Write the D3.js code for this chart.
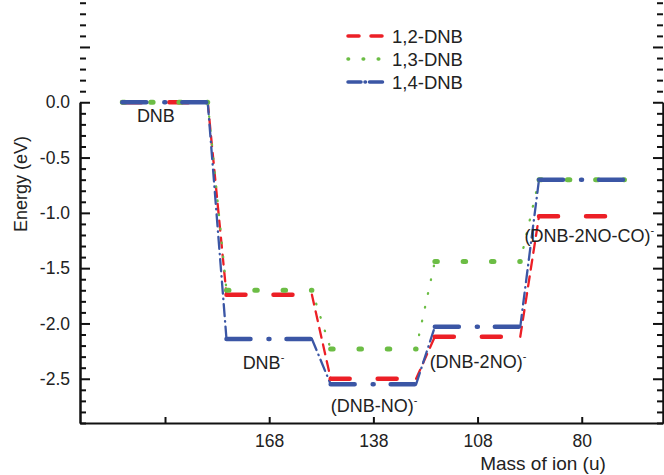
<html>
<head>
<script src="https://cdn.jsdelivr.net/npm/d3@7/dist/d3.min.js"></script>
<style>
    body { margin:0; background:white }
    svg { font-family: "Liberation Sans", Arial, sans-serif; display:block }
</style>
</head>
<body>
<svg id="chart"></svg>
<script>

// data
let massLabels = ["", "168", "138", "108", "80"]
let speciesNames = ["DNB", "DNB", "(DNB-NO)", "(DNB-2NO)", "(DNB-2NO-CO)"]
let speciesCharge = ["", "-", "-", "-", "-"]
let seriesNames = ["1,2-DNB", "1,3-DNB", "1,4-DNB"]
let energy12 = [0, -1.74, -2.50, -2.12, -1.03]
let energy13 = [0, -1.70, -2.23, -1.44, -0.70]
let energy14 = [0, -2.14, -2.55, -2.03, -0.70]
let energyTicks = [-2.5, -2.0, -1.5, -1.0, -0.5, 0.0, 0.5]

// layout
let width = 664, height = 475
let plot = {left: 80, right: 663, bottom: 423, top: -10}
let halfLevel = 0.41
// label anchors: [position along mass axis, energy] (text start, baseline)
let labelPos = [[-0.27, -0.178], [0.745, -2.411], [1.59, -2.80], [2.54, -2.402], [3.45, -1.263]]

let styles = [
    {color: "#ec1f26", level: "19,28", link: "10,7", legend: "11,12", lw: 4.5},
    {color: "#6cbd45", level: "2.5,25.8", link: "0.6,13.5", legend: "0.6,14.5", lw: 5},
    {color: "#3b56a5", level: "24,18,1,17", link: "12,5,0.5,5", legend: "13,4,0.5,4", lw: 4.5}
]

let svg = d3.select("#chart").attr("width", width).attr("height", height)
svg.append("rect").attr("width", width).attr("height", height).attr("fill", "white")

let xScale = d3.scaleLinear()
    .domain([-0.816, 4.78])
    .range([plot.left, plot.right])

let yScale = d3.scaleLinear()
    .domain([-2.9, 0.0])
    .range([plot.bottom, plot.bottom - 2.9 * 110.6])

let line = d3.line().x(d => xScale(d[0])).y(d => yScale(d[1]))

let allSeries = [energy12, energy13, energy14]

// connectors first, then levels
allSeries.forEach((values, s) => {
    let st = styles[s]
    let g = svg.append("g")
    for (let i = 0; i < values.length - 1; i++) {
        g.append("path")
         .attr("d", line([[i + halfLevel, values[i]], [i + 1 - halfLevel, values[i + 1]]]))
         .attr("fill", "none")
         .attr("stroke", st.color)
         .attr("stroke-width", 2.3)
         .attr("stroke-linecap", "round")
         .attr("stroke-dasharray", st.link)
    }
})

allSeries.forEach((values, s) => {
    let st = styles[s]
    svg.append("g").selectAll("path")
       .data(values)
       .enter()
       .append("path")
         .attr("d", (d, i) => line([[i - halfLevel, d], [i + halfLevel, d]]))
         .attr("fill", "none")
         .attr("stroke", st.color)
         .attr("stroke-width", st.lw)
         .attr("stroke-linecap", "round")
         .attr("stroke-dasharray", st.level)
})

// axes
let yMajor = d3.axisLeft(yScale).tickValues(energyTicks).tickSize(-10).tickPadding(10)
    .tickSizeOuter(0)
    .tickFormat(d => d <= 0 ? d3.format(".1f")(d).replace("−", "-") : "")
let minorVals = d3.range(-29, 10).map(d => d / 10).filter(d => Math.round(d * 10) % 5 != 0)
let yMinor = d3.axisLeft(yScale).tickValues(minorVals).tickSize(-6).tickFormat("").tickSizeOuter(0)
let yRightMajor = d3.axisRight(yScale).tickValues(energyTicks).tickSize(-10).tickFormat("").tickSizeOuter(0)
let yRightMinor = d3.axisRight(yScale).tickValues(minorVals).tickSize(-6).tickFormat("").tickSizeOuter(0)
let xAxis = d3.axisBottom(xScale).tickValues([0, 1, 2, 3, 4]).tickSize(-6).tickPadding(12)
    .tickSizeOuter(0)
    .tickFormat(d => massLabels[d])

function styleAxis(g) {
    g.select(".domain").attr("stroke", "#111").attr("stroke-width", 2)
    g.selectAll(".tick line").attr("stroke", "#111").attr("stroke-width", 2)
    g.selectAll(".tick text").attr("fill", "#222")
        .style("font-size", "17.5px").style("font-family", "'Liberation Sans', Arial, sans-serif")
}

svg.append("g").attr("transform", `translate(${plot.left},0)`).call(yMinor).call(styleAxis)
svg.append("g").attr("transform", `translate(${plot.left},0)`).call(yMajor).call(styleAxis)
svg.append("g").attr("transform", `translate(${plot.right},0)`).call(yRightMinor).call(styleAxis)
svg.append("g").attr("transform", `translate(${plot.right},0)`).call(yRightMajor).call(styleAxis)
svg.append("g").attr("transform", `translate(0,${plot.bottom})`).call(xAxis).call(styleAxis)

// axis titles
svg.append("text")
   .attr("transform", `translate(27,184) rotate(-90)`)
   .attr("text-anchor", "middle")
   .attr("font-size", 18)
   .attr("fill", "#222")
   .text("Energy (eV)")

svg.append("text")
   .attr("x", 543).attr("y", 470)
   .attr("text-anchor", "middle")
   .attr("font-size", 19)
   .attr("fill", "#222")
   .text("Mass of ion (u)")

// species labels
speciesNames.forEach((name, i) => {
    let t = svg.append("text")
       .attr("x", xScale(labelPos[i][0]))
       .attr("y", yScale(labelPos[i][1]))
       .attr("font-size", 18)
       .attr("fill", "#222")
    t.append("tspan").text(name)
    if (speciesCharge[i]) {
        t.append("tspan").attr("dy", -8).attr("font-size", 11).text(speciesCharge[i])
    }
})

// legend
let legend = svg.append("g").attr("transform", "translate(346,36)")
seriesNames.forEach((name, s) => {
    let row = legend.append("g").attr("transform", `translate(0,${s * 23})`)
    row.append("line")
       .attr("x1", 2).attr("x2", 38)
       .attr("stroke", styles[s].color)
       .attr("stroke-width", 3.5)
       .attr("stroke-linecap", "round")
       .attr("stroke-dasharray", styles[s].legend)
    row.append("text")
       .attr("x", 46).attr("y", 7)
       .attr("font-size", 18.5)
       .attr("fill", "#222")
       .text(name)
})

</script>
</body>
</html>
